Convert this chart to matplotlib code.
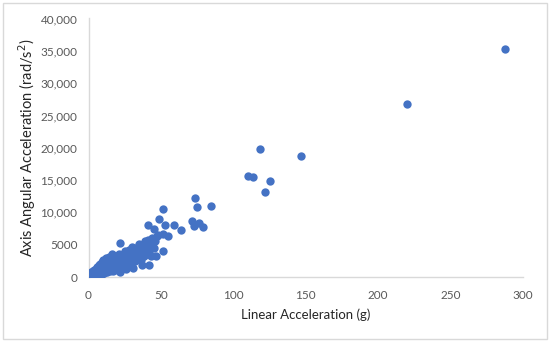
import matplotlib.pyplot as plt
from matplotlib.patches import Rectangle

# linear acceleration (g) and axis angular acceleration (rad/s^2)
lin_acc = [1, 1.5, 2, 2, 3, 3, 4, 4, 5, 5, 5, 6, 6, 7, 7, 7, 8, 8, 8, 9, 9, 9,
           10, 10, 10, 11, 11, 11, 12, 12, 12, 13, 13, 13, 14, 14, 14, 15, 15, 15,
           16, 16, 16, 17, 17, 17, 18, 18, 19, 19, 19, 20, 20, 21, 21, 21, 22, 22,
           23, 23, 24, 24, 25, 25, 25, 26, 26, 27, 27, 28, 28, 29, 29, 30, 30, 30,
           31, 31, 32, 32, 33, 33, 34, 34, 35, 35, 36, 36, 37, 37, 38, 38, 39, 39,
           40, 40, 41, 41, 42, 42, 43, 44, 44, 45, 46, 47, 48, 22, 26, 31,
           287.2, 220, 118.6, 146.7, 109.9, 113.3, 125.4, 121.8, 73.7, 74.7, 84.6,
           51.7, 48.3, 71.3, 41, 52.6, 58.7, 63.5, 72.5, 76.2, 78.8, 45.4, 51.4,
           54.6, 21.6, 51.7, 43.4, 46.6, 41.7, 36.9]
ang_acc = [300, 500, 200, 700, 400, 900, 300, 1100, 600, 1300, 200, 800, 1500, 400,
           1100, 1800, 700, 1400, 2000, 500, 1200, 2300, 900, 1600, 2600, 600, 1300,
           2100, 1000, 1800, 2900, 800, 1500, 2400, 1200, 2000, 3100, 900, 1700, 2700,
           1300, 2200, 3500, 1000, 1900, 3000, 1500, 2500, 1200, 2100, 3300, 1700, 2800,
           1000, 2300, 3600, 1900, 3000, 1400, 2600, 2100, 3400, 1700, 2900, 4000, 2300,
           3600, 1900, 3100, 2600, 4200, 2200, 3500, 1500, 2900, 4700, 3300, 4100, 2500,
           3800, 3100, 4500, 2900, 4000, 3500, 5100, 2700, 4300, 3800, 4900, 3300, 4500,
           4100, 5500, 3700, 4800, 4400, 5800, 4000, 5200, 4700, 5000, 6000, 4500, 5500,
           6300, 6500, 800, 1200, 1400,
           35200, 26800, 19800, 18650, 15600, 15400, 14800, 13100, 12150, 10800, 10950,
           10550, 9000, 8700, 7980, 7980, 8030, 7200, 7930, 8340, 7720, 7460, 6690,
           6280, 5300, 4000, 3200, 3300, 1850, 1900]

x_ticks = [0, 50, 100, 150, 200, 250, 300]
y_ticks = [0, 5000, 10000, 15000, 20000, 25000, 30000, 35000, 40000]
y_tick_labels = ['0', '5000', '10,000', '15,000', '20,000', '25,000', '30,000', '35,000', '40,000']

plt.rcParams['font.family'] = ['Lato', 'DejaVu Sans']

fig = plt.figure(figsize=(5.5, 3.42), dpi=100)
ax = fig.add_axes([0.161, 0.19, 0.790, 0.756])

ax.scatter(lin_acc, ang_acc, s=36, color='#4472C4', linewidths=0, zorder=3)

ax.set_xlim(0, 300)
ax.set_ylim(0, 40000)
ax.set_xticks(x_ticks)
ax.set_yticks(y_ticks)
ax.set_yticklabels(y_tick_labels)
ax.tick_params(axis='both', length=0, labelsize=8.5, labelcolor='#595959')
ax.tick_params(axis='x', pad=9)
ax.tick_params(axis='y', pad=8)

for side in ['top', 'right']:
    ax.spines[side].set_visible(False)
for side in ['left', 'bottom']:
    ax.spines[side].set_color('#D9D9D9')
    ax.spines[side].set_linewidth(1)

ax.set_xlabel('Linear Acceleration (g)', fontsize=9.5, color='#262626', labelpad=6)
ax.set_ylabel('Axis Angular Acceleration (rad/s$^2$)', fontsize=10.5, color='#262626', labelpad=2)

# light grey frame round the whole chart
fig.patches.append(Rectangle((0.006, 0.009), 0.988, 0.982, transform=fig.transFigure,
                             fill=False, edgecolor='#D9D9D9', linewidth=1))

plt.savefig('out.png', dpi=100)
